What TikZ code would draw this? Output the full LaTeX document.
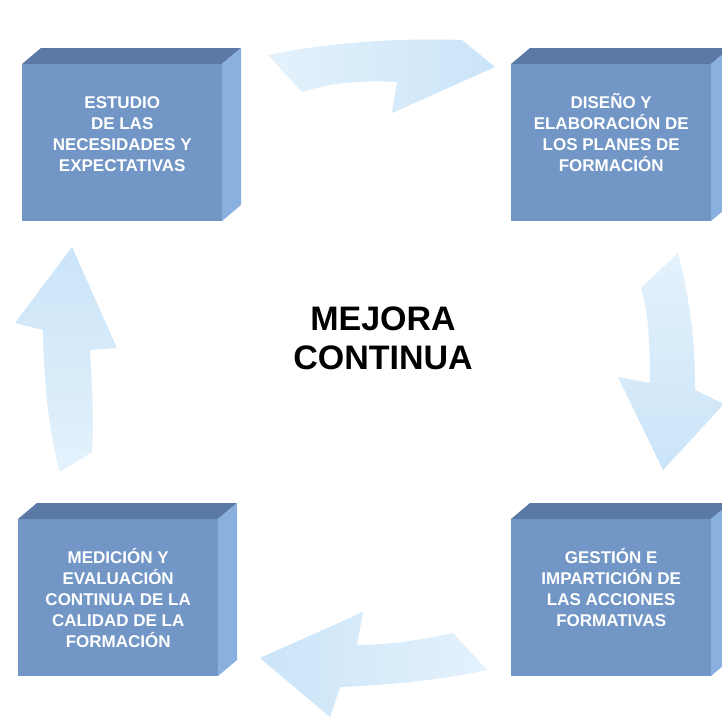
\documentclass[tikz,border=0pt]{standalone}
\usepackage{fontspec}
\setmainfont{Liberation Sans}
\definecolor{frontblue}{RGB}{114,151,198}
\definecolor{topblue}{RGB}{90,121,164}
\definecolor{sideblue}{RGB}{138,176,224}
\definecolor{arrowlight}{RGB}{228,242,252}
\definecolor{arrowdark}{RGB}{202,228,248}
\def\boxw{200}
\def\boxh{157}
\def\depthx{19}
\def\depthy{16}
% one stage of the cycle: name, left x, top y, text
\newcommand{\etapa}[4]{
    \fill[topblue] (#2,#3) -- ++(\depthx,-\depthy) -- ++(\boxw,0) -- ++(-\depthx,\depthy) -- cycle;
    \fill[sideblue] (#2+\boxw,#3) -- ++(\depthx,-\depthy) -- ++(0,\boxh) -- ++(-\depthx,\depthy) -- cycle;
    \node[etapabox] (#1) at (#2,#3) {};
    \node[etapatext] (#1-txt) at (#1.north) {\vphantom{Ó}#4};
}

\begin{document}
\begin{tikzpicture}[x=1pt,y=-1pt,
    etapabox/.style={anchor=north west,fill=frontblue,inner sep=0pt,
        minimum width=\boxw pt,minimum height=\boxh pt},
    etapatext/.style={anchor=north,yshift=-29pt,inner sep=0pt,align=center,text=white,
        font=\bfseries\fontsize{17}{21}\selectfont},
    flecha/.style={draw=none}]
    \clip (0,0) rectangle (722,718);
    \fill[white] (0,0) rectangle (722,718);

    % arrows
    \shade[flecha,left color=arrowlight,right color=arrowdark]
        (268,55) .. controls (330,42) and (400,38) .. (462,40) -- (495,67) -- (392,113)
        -- (397,82) .. controls (360,80) and (330,83) .. (302,92) -- cycle;
    \shade[flecha,top color=arrowlight,bottom color=arrowdark]
        (678,253) .. controls (690,300) and (695,340) .. (695,390) -- (724,404) -- (663,470)
        -- (618,377) -- (650,383) .. controls (650,340) and (648,310) .. (641,288) -- cycle;
    \shade[flecha,right color=arrowlight,left color=arrowdark]
        (487,670) -- (453,633) .. controls (420,640) and (390,645) .. (357,645) -- (363,612)
        -- (260,658) -- (330,717) -- (340,687) .. controls (390,685) and (440,680) .. (487,670);
    \shade[flecha,bottom color=arrowlight,top color=arrowdark]
        (60,472) -- (92,452) .. controls (94,420) and (92,385) .. (90,350) -- (117,348)
        -- (72,247) -- (15,323) -- (43,330) .. controls (44,380) and (48,430) .. (60,472);

    % stages
    \etapa{estudio}{22}{64}{ESTUDIO\\DE LAS\\NECESIDADES Y\\EXPECTATIVAS}
    \etapa{diseno}{511}{64}{DISEÑO Y\\ELABORACIÓN DE\\LOS PLANES DE\\FORMACIÓN}
    \etapa{gestion}{511}{519}{GESTIÓN E\\IMPARTICIÓN DE\\LAS ACCIONES\\FORMATIVAS}
    \etapa{medicion}{18}{519}{MEDICIÓN Y\\EVALUACIÓN\\CONTINUA DE LA\\CALIDAD DE LA\\FORMACIÓN}

    \node[align=center,font=\bfseries\fontsize{34}{39}\selectfont] (titulo) at (383,338) {MEJORA\\CONTINUA};
\end{tikzpicture}
\end{document}
